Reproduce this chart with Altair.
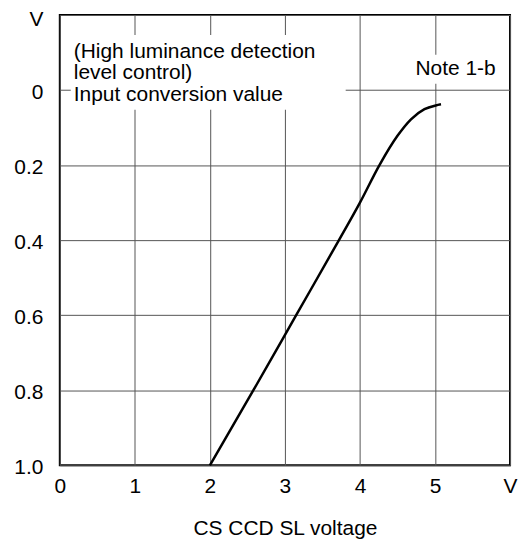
import altair as alt
import pandas as pd

# --- data ---
volt = [2.0, 2.58, 3.15, 3.72, 4.0, 4.26, 4.5, 4.68, 4.86, 5.01, 5.08]
conv = [1.0, 0.8, 0.6, 0.4, 0.3, 0.2, 0.122, 0.078, 0.051, 0.041, 0.038]
x_ticks = [0, 1, 2, 3, 4, 5, 6]
y_ticks = [-0.2, 0, 0.2, 0.4, 0.6, 0.8, 1.0]
note_lines = ["(High luminance detection", "level control)", "Input conversion value"]
note_tag = "Note 1-b"
x_title = "CS CCD SL voltage"
unit = "V"

FONT = "Liberation Sans"
FS = 21
df = pd.DataFrame({"volt": volt, "conv": conv})
one = pd.DataFrame({"k": [0]})

x_scale = alt.Scale(domain=[0, 6], nice=False, zero=False)
y_scale = alt.Scale(domain=[-0.2, 1.0], reverse=True, nice=False, zero=False)

x_axis = alt.Axis(
    values=x_ticks,
    labelExpr=f"datum.value > 5.5 ? '{unit}' : format(datum.value, 'd')",
    grid=True, gridColor="#555555", gridWidth=1,
    domain=False, ticks=False,
    labelFont=FONT, labelFontSize=FS, labelColor="black", labelPadding=10,
    title=x_title, titleFont=FONT, titleFontSize=FS, titleFontWeight="normal",
    titleColor="black", titlePadding=22, labelFlush=False,
)
y_axis = alt.Axis(
    values=y_ticks,
    labelExpr=f"datum.value < -0.1 ? '{unit}' : (abs(datum.value) < 0.01 ? '0' : format(datum.value, '.1f'))",
    grid=True, gridColor="#555555", gridWidth=1,
    domain=False, ticks=False,
    labelFont=FONT, labelFontSize=FS, labelColor="black", labelPadding=17,
    labelOffset={"expr": "datum.value < -0.1 ? 5 : 2"}, labelFlush=False,
    title=None,
)

line = alt.Chart(df).mark_line(color="black", strokeWidth=2.5, interpolate="monotone").encode(
    x=alt.X("volt:Q", scale=x_scale, axis=x_axis),
    y=alt.Y("conv:Q", scale=y_scale, axis=y_axis),
)

mask_main = alt.Chart(one).mark_rect(fill="white", strokeWidth=0).encode(
    x=alt.value(11), x2=alt.value(287), y=alt.value(20), y2=alt.value(95)
)
mask_note = alt.Chart(one).mark_rect(fill="white", strokeWidth=0).encode(
    x=alt.value(354), x2=alt.value(446), y=alt.value(40), y2=alt.value(69)
)

label_main = alt.Chart(one).mark_text(
    text=note_lines, align="left", baseline="alphabetic", font=FONT, fontSize=FS,
    fontWeight="normal", lineHeight=21.5, fill="black", strokeWidth=0
).encode(x=alt.value(14), y=alt.value(43))

label_note = alt.Chart(one).mark_text(
    text=note_tag, align="left", baseline="alphabetic", font=FONT, fontSize=FS,
    fontWeight="normal", fill="black", strokeWidth=0
).encode(x=alt.value(357), y=alt.value(60))

chart = alt.layer(mask_main, mask_note, line, label_main, label_note).properties(
    width=452, height=452,
    padding={"left": 52, "top": 6, "right": 10, "bottom": 75},
    autosize="none",
).configure_view(stroke="black", strokeWidth=2)

chart.save("out.html", embed_options={"renderer": "svg", "actions": False})
